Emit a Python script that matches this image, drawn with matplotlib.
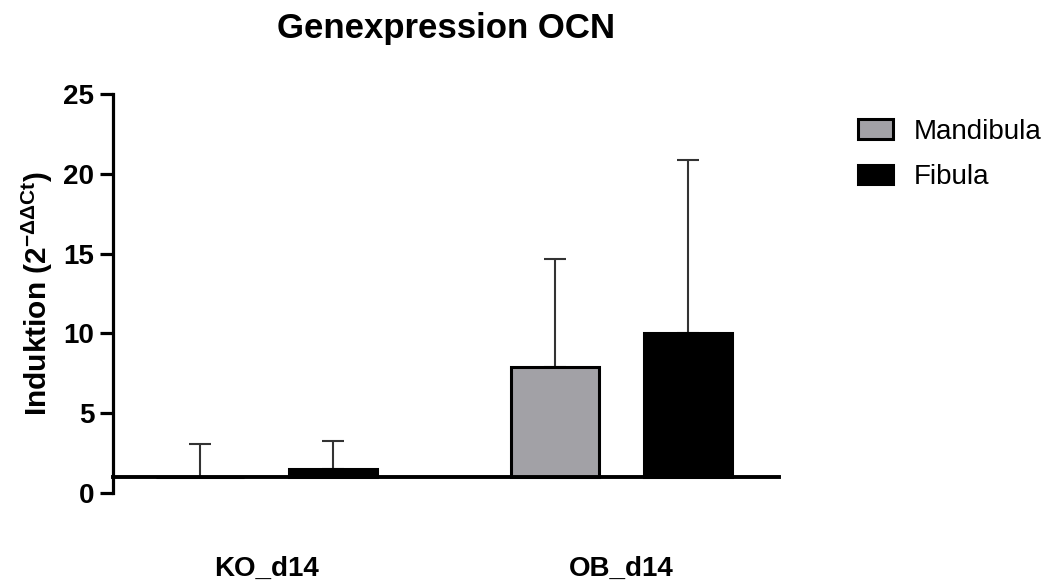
import matplotlib
matplotlib.use("Agg")
import matplotlib.pyplot as plt
import numpy as np

plt.rcParams['font.family'] = ['Liberation Sans', 'DejaVu Sans']
plt.rcParams['mathtext.fontset'] = 'custom'
plt.rcParams['mathtext.rm'] = 'Liberation Sans'
plt.rcParams['mathtext.bf'] = 'Liberation Sans:bold'

groups = ["KO_d14", "OB_d14"]
series = ["Mandibula", "Fibula"]
mandibula_mean = [1.0, 7.9]
mandibula_err = [2.05, 6.75]
fibula_mean = [1.5, 10.0]
fibula_err = [1.75, 10.85]
baseline = 1.0

colors = {"Mandibula": "#a2a1a6", "Fibula": "#000000"}

fig = plt.figure(figsize=(10.51, 5.86), dpi=100)
ax = fig.add_axes([0.1075, 0.1587, 0.6335, 0.6809])

x = np.arange(len(groups))
off = 0.187
w = 0.248

for i, (name, means, errs) in enumerate([("Mandibula", mandibula_mean, mandibula_err),
                                          ("Fibula", fibula_mean, fibula_err)]):
    pos = x + (-off if i == 0 else off)
    heights = [m - baseline for m in means]
    ax.bar(pos, heights, width=w, bottom=baseline, color=colors[name],
           edgecolor="black", linewidth=2.2, label=name, zorder=2)
    ax.errorbar(pos, means, yerr=[np.zeros(len(errs)), errs], fmt='none',
                ecolor="#333333", elinewidth=1.5, capsize=8, capthick=1.5, zorder=1)

# spines first: moving the bottom spine resets the x ticks
ax.spines['top'].set_visible(False)
ax.spines['right'].set_visible(False)
ax.spines['left'].set_linewidth(2.3)
ax.spines['bottom'].set_linewidth(2.8)
ax.spines['bottom'].set_position(('data', baseline))
ax.spines['bottom'].set_zorder(3)

ax.set_ylim(0, 25)
ax.set_xlim(-0.432, 1.444)
ax.set_yticks([0, 5, 10, 15, 20, 25])
ax.set_xticks(x)
ax.set_xticklabels(groups)
ax.tick_params(axis='x', length=0, pad=57, labelsize=20)
ax.tick_params(axis='y', length=9.5, width=2.3, labelsize=20, pad=4)
for lab in ax.get_xticklabels() + ax.get_yticklabels():
    lab.set_fontweight('bold')

ax.set_ylabel(r'Induktion (2$^{\mathregular{-ΔΔCt}}$)', fontsize=21.5, fontweight='bold', labelpad=6)
ax.set_title("Genexpression OCN", fontsize=25, fontweight='bold', pad=40)

fig.legend(loc='upper left', bbox_to_anchor=(0.793, 0.84), frameon=False, fontsize=20,
           handlelength=1.25, handleheight=0.68, handletextpad=0.75, labelspacing=0.7)

fig.savefig("out.png", dpi=100)
